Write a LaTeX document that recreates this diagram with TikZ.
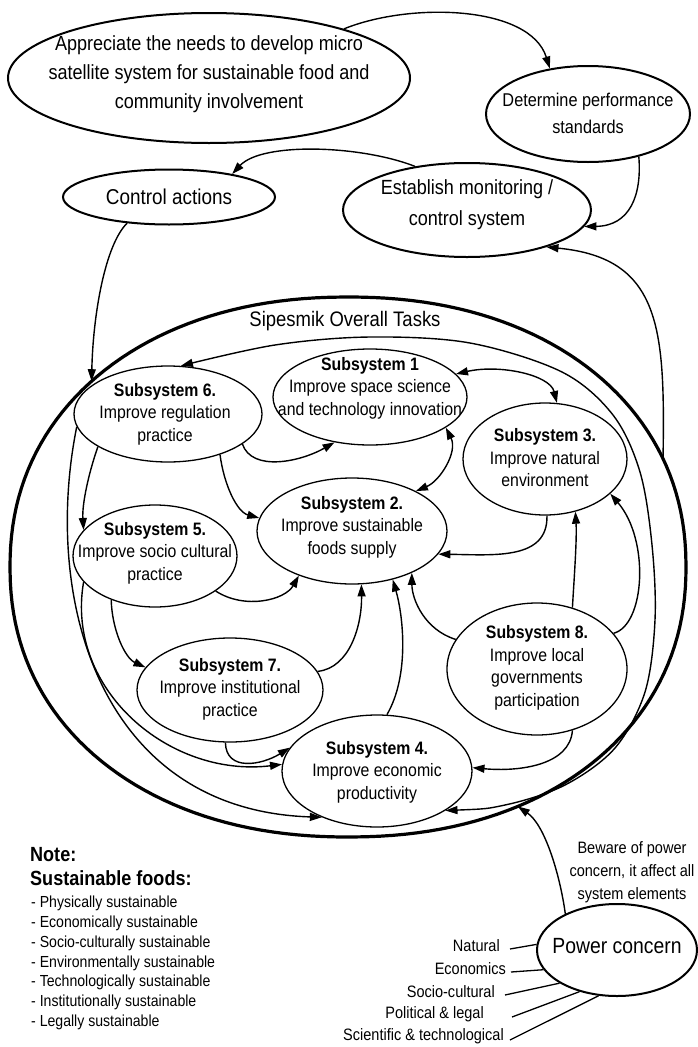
\documentclass[tikz,border=0pt]{standalone}
\usepackage{fontspec}
\setmainfont{Liberation Sans}[FakeStretch=0.88]
\usetikzlibrary{arrows.meta,shapes.geometric}
% outline of the overall task area: a slightly full oval (superellipse, exponent 2.15)
\pgfmathdeclarefunction{supx}{1}{\pgfmathparse{cos(#1)*pow(abs(cos(#1)),-0.0698)}}
\pgfmathdeclarefunction{supy}{1}{\pgfmathparse{sin(#1)*pow(abs(sin(#1)),-0.0698)}}
\begin{document}
\begin{tikzpicture}[x=1pt,y=-1pt,
  txt/.style={inner sep=0pt, align=center, font=\fontsize{18}{22.5}\selectfont},
  bigtxt/.style={inner sep=0pt, align=center, font=\fontsize{20.5}{29}\selectfont},
  oval/.style={draw, ellipse, inner sep=0pt, line width=1.3pt},
  topoval/.style={draw, ellipse, inner sep=0pt, line width=2pt},
  link/.style={line width=1.4pt, -{Triangle[length=12pt,width=8pt]}},
  twoway/.style={line width=1.4pt, {Triangle[length=12pt,width=8pt]}-{Triangle[length=12pt,width=8pt]}},
  ray/.style={line width=1.3pt},
  lbl/.style={inner sep=0pt, anchor=east, font=\fontsize{16.5}{20}\selectfont},
]
\fill[white] (0,0) rectangle (698,1047);
\useasboundingbox (0,0) rectangle (698,1047);

% ---- management cycle ----
\node[topoval, minimum width=402pt, minimum height=130pt] (app) at (209,78) {};
\node[bigtxt] (app-t) at (209,74) {Appreciate the needs to develop micro\\satellite system for sustainable food and\\community involvement};
\node[topoval, minimum width=204pt, minimum height=96pt] (det) at (588,114) {};
\node[bigtxt, font=\fontsize{18.5}{27}\selectfont] (det-t) at (588,113) {Determine performance\\standards};
\node[topoval, minimum width=212pt, minimum height=55pt] (ctl) at (169,197) {};
\node[bigtxt, font=\fontsize{21.5}{26}\selectfont] (ctl-t) at (169,197) {Control actions};
\node[topoval, minimum width=248pt, minimum height=94pt] (est) at (467,210) {};
\node[bigtxt, font=\fontsize{20.5}{31}\selectfont] (est-t) at (467,205) {Establish monitoring /\\control system};

% ---- overall task boundary ----
\draw[line width=3.2pt] plot[domain=0.5:358.5, samples=180] ({348+338*supx(\x)},{567-270*supy(\x)}) -- cycle;
\coordinate (b-ctl) at ({348+338*supx(138)},{567-270*supy(138)});
\coordinate (b-est) at ({348+338*supx(22)},{567-270*supy(22)});
\coordinate (b-pow) at ({348+338*supx(-61.5)},{567-270*supy(-61.5)});
\node[inner sep=0pt, font=\fontsize{21}{24}\selectfont] (title) at (345,321) {Sipesmik Overall Tasks};

% ---- subsystems ----
\node[oval, minimum width=194pt, minimum height=96pt] (s1) at (370,397) {};
\node[txt] (s1-t) at (370,388) {\textbf{Subsystem 1}\\Improve space science\\and technology innovation};
\node[oval, minimum width=188pt, minimum height=96pt] (s6) at (168,414) {};
\node[txt] (s6-t) at (165,414) {\textbf{Subsystem 6.}\\Improve regulation\\practice};
\node[oval, minimum width=164pt, minimum height=112pt] (s3) at (545,459) {};
\node[txt] (s3-t) at (545,458) {\textbf{Subsystem 3.}\\Improve natural\\environment};
\node[oval, minimum width=190pt, minimum height=106pt] (s2) at (352,531) {};
\node[txt] (s2-t) at (352,527) {\textbf{Subsystem 2.}\\Improve sustainable\\foods supply};
\node[oval, minimum width=164pt, minimum height=102pt] (s5) at (155,556) {};
\node[txt] (s5-t) at (155,553) {\textbf{Subsystem 5.}\\Improve socio cultural\\practice};
\node[oval, minimum width=186pt, minimum height=104pt] (s7) at (230,690) {};
\node[txt] (s7-t) at (230,689) {\textbf{Subsystem 7.}\\Improve institutional\\practice};
\node[oval, minimum width=180pt, minimum height=132pt] (s8) at (537,669) {};
\node[txt] (s8-t) at (537,668) {\textbf{Subsystem 8.}\\Improve local\\governments\\participation};
\node[oval, minimum width=190pt, minimum height=112pt] (s4) at (377,771) {};
\node[txt] (s4-t) at (377,772) {\textbf{Subsystem 4.}\\Improve economic\\productivity};

% ---- power concern ----
\node[topoval, minimum width=160pt, minimum height=92pt] (pow) at (617,950) {};
\node[inner sep=0pt, font=\fontsize{22}{26}\selectfont] (pow-t) at (617,946) {Power concern};
\node[txt, font=\fontsize{16.5}{23}\selectfont] (beware) at (632,872) {Beware of power\\concern, it affect all\\system elements};
\node[lbl] (nat) at (500,946) {Natural};
\node[lbl] (eco) at (506,969) {Economics};
\node[lbl] (soc) at (495,992) {Socio-cultural};
\node[lbl] (pol) at (484,1014) {Political \& legal};
\node[lbl] (sci) at (504,1036) {Scientific \& technological};

% ---- note ----
\node[inner sep=0pt, anchor=west, font=\fontsize{20.5}{23}\selectfont\bfseries] (note) at (30,855) {Note:};
\node[inner sep=0pt, anchor=west, font=\fontsize{20.5}{23}\selectfont\bfseries] (sf) at (30,878) {Sustainable foods:};
\node[inner sep=0pt, anchor=west, align=left, font=\fontsize{16}{19.8}\selectfont] (list) at (31,963) {- Physically sustainable\\- Economically sustainable\\- Socio-culturally sustainable\\- Environmentally sustainable\\- Technologically sustainable\\- Institutionally sustainable\\- Legally sustainable};

% ---- connectors: management cycle ----
\draw[link] (app.20) .. controls (410,2) and (530,5) .. (det.130);
\draw[link] (det.-40) .. controls (642,195) and (630,226) .. (est.-8);
\draw[link] (est.140) .. controls (360,145) and (262,142) .. (ctl.20);
\draw[link] (ctl.-148) .. controls (105,245) and (93,315) .. (b-ctl);
\draw[link] (b-est) .. controls (665,330) and (662,258) .. (est.-25);

% ---- connectors: subsystems ----
\draw[twoway] (s1.15) .. controls (500,364) and (550,375) .. (s3.78);
\draw[twoway] (s1.-22) .. controls (458,452) and (440,481) .. (s2.32);
\draw[link] (s6.-22) .. controls (252,472) and (300,462) .. (s1.-128);
\draw[link] (s6.-38) .. controls (224,485) and (237,512) .. (s2.172);
\draw[link] (s6.-155) .. controls (88,475) and (82,505) .. (s5.160);
\draw[link] (s6.-172) .. controls (42,600) and (100,810) .. (s4.-140);
\draw[link] (s5.-160) .. controls (65,690) and (170,778) .. (s4.176);
\draw[link] (s5.-135) .. controls (112,630) and (125,658) .. (s7.165);
\draw[link] (s5.-30) .. controls (245,610) and (285,600) .. (s2.-140);
\draw[link] (s7.12) .. controls (350,668) and (362,625) .. (s2.-80);
\draw[link] (s7.-95) .. controls (226,772) and (262,765) .. (s4.165);
\draw[link] (s4.80) .. controls (410,675) and (403,615) .. (s2.-50);
\draw[link] (s3.-88) .. controls (548,560) and (495,555) .. (s2.-15);
\draw[link] (s8.160) .. controls (425,630) and (412,600) .. (s2.-35);
\draw[link] (s8.60) .. controls (574,580) and (577,540) .. (s3.-60);
\draw[link] (s8.25) .. controls (645,625) and (650,540) .. (s3.-28);
\draw[link] (s8.-60) .. controls (570,765) and (520,772) .. (s4.2);
\draw[twoway] plot[smooth, tension=0.55] coordinates {(s4.-30) (505,805) (565,785) (615,748) (645,692) (655,620) (652,545) (640,472) (613,415) (562,372) (470,343) (370,337) (275,345) (s6.75)};

% ---- power concern links ----
\draw[link] (pow.145) .. controls (560,875) and (545,825) .. (b-pow);
\draw[ray] ([xshift=10pt,yshift=-3pt]nat.east) -- (pow.176);
\draw[ray] ([xshift=5pt,yshift=-3pt]eco.east) -- (pow.-165);
\draw[ray] ([xshift=10pt,yshift=-3pt]soc.east) -- (pow.-150);
\draw[ray] ([xshift=28pt,yshift=-3pt]pol.east) -- (pow.-132);
\draw[ray] ([xshift=6pt,yshift=-4pt]sci.east) -- (pow.-112);
\end{tikzpicture}
\end{document}
